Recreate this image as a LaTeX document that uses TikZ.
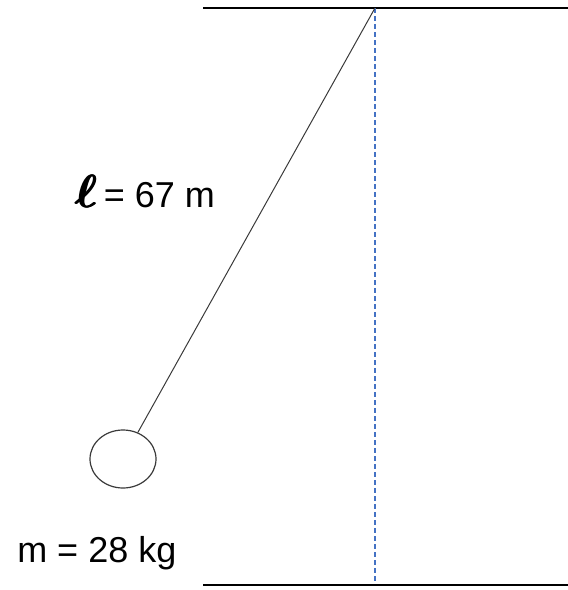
\documentclass[tikz,border=0pt]{standalone}
\usepackage{amsmath}
\usepackage{fontspec}
\setmainfont{Liberation Sans}
\usepackage{tikz}
\usetikzlibrary{positioning,shapes.geometric}
\definecolor{ink}{HTML}{000000}
\definecolor{cord}{HTML}{3A3A3A}
\definecolor{plumb}{HTML}{4472C4}
\newcommand{\heavyell}{\scalebox{1.4}{\boldmath\rlap{$\ell$}\kern0.4pt\rlap{$\ell$}\kern0.4pt$\ell$}}
\tikzset{
  wall/.style={draw=ink, line width=2.2pt},
  cord/.style={draw=cord, line width=0.75pt},
  plumbline/.style={draw=plumb, line width=0.8pt, dash pattern=on 3.5pt off 2.5pt},
  bob/.style={ellipse, draw=cord, line width=0.9pt, fill=white, minimum width=49.5pt, minimum height=43.5pt, inner sep=0pt},
  lbl/.style={font=\fontsize{27}{31}\selectfont, inner sep=0pt, anchor=base west}
}
\begin{document}
\begin{tikzpicture}[x=0.75pt, y=-0.75pt]
  \useasboundingbox (0,0) rectangle (568,590);
  \coordinate (pivot) at (375,8);
  \coordinate (ceilL) at (203,8);  \coordinate (ceilR) at (568,8);
  \coordinate (floorL) at (203,585); \coordinate (floorR) at (568,585);
  \coordinate (foot) at (375,582);
  \node[bob] (mass) at (123,459) {};
  \node[lbl] (len) at (74,207) {\heavyell\,= 67 m};
  \node[lbl] (mlab) at (17,562) {m = 28 kg};
  \draw[wall] (ceilL) -- (ceilR);
  \draw[wall] (floorL) -- (floorR);
  \draw[plumbline] (pivot) -- (foot);
  \draw[cord] (pivot) -- (mass);
\end{tikzpicture}
\end{document}
